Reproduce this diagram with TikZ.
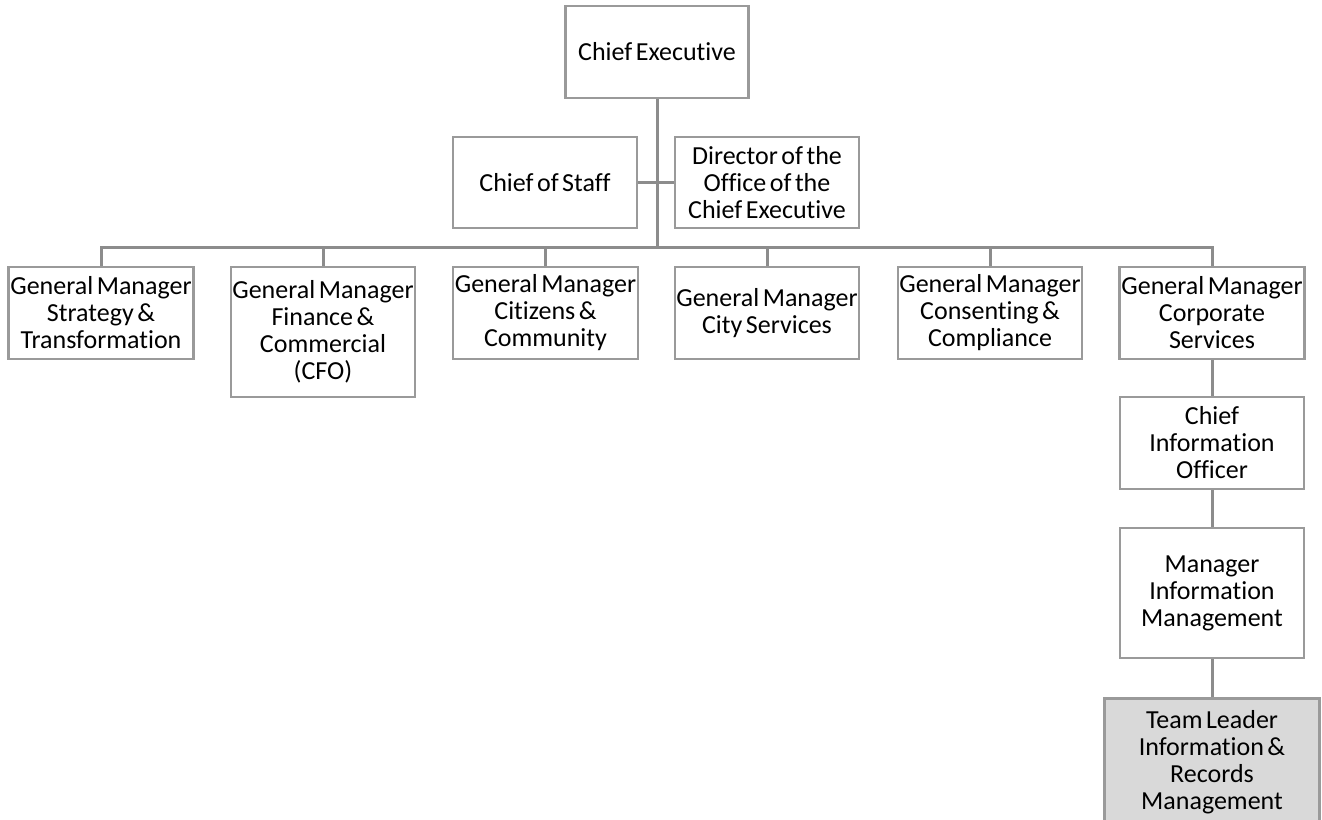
\documentclass[tikz,border=0pt]{standalone}
\usepackage{fontspec}
\setmainfont[WordSpace=0.6,RawFeature=-liga]{Carlito}
\definecolor{boxline}{HTML}{9A9A9A}
\definecolor{conn}{HTML}{8C8C8C}
\definecolor{tlfill}{HTML}{D9D9D9}
\begin{document}
\begin{tikzpicture}[x=1pt,y=-1pt,
  post/.style={draw=boxline,line width=2.8pt,fill=white,inner sep=0pt,align=center,
    font=\fontsize{26}{27}\selectfont},
  conline/.style={draw=conn,line width=3pt}]
\useasboundingbox (0,0) rectangle (1322,819);
\fill[white] (0,0) rectangle (1322,819);
% nodes
\node[post,minimum width=183pt,minimum height=92pt] (ce) at (657,52) {Chief Executive};
\node[post,minimum width=184pt,minimum height=91pt] (cos) at (545,182.5) {Chief of Staff};
\node[post,minimum width=184pt,minimum height=91pt] (dir) at (767,182.5) {Director of the\\Office of the\\Chief Executive};
\coordinate (bus) at (657,247);
\node[post,minimum width=185pt,minimum height=92pt] (gm1) at (101,313) {General Manager\\Strategy \&\\Transformation};
\node[post,minimum width=184pt,minimum height=130pt] (gm2) at (323,332) {General Manager\\Finance \&\\Commercial\\(CFO)};
\node[post,minimum width=185pt,minimum height=92pt] (gm3) at (545.5,313) {General Manager\\Citizens \&\\Community};
\node[post,minimum width=184pt,minimum height=92pt] (gm4) at (767,313) {General Manager\\City Services};
\node[post,minimum width=184pt,minimum height=92pt] (gm5) at (990,313) {General Manager\\Consenting \&\\Compliance};
\node[post,minimum width=185pt,minimum height=92pt] (gm6) at (1212,313) {General Manager\\Corporate\\Services};
\node[post,minimum width=184pt,minimum height=92pt] (cio) at (1212,443) {Chief\\Information\\Officer};
\node[post,minimum width=184pt,minimum height=130pt] (mim) at (1212,593) {Manager\\Information\\Management};
\node[post,fill=tlfill,minimum width=215pt,minimum height=128pt,anchor=north] (tl) at (1212,697) {Team Leader\\Information \&\\Records\\Management};
% connectors
\draw[conline] (ce.south) -- (bus);
\draw[conline] (cos.east) -- (dir.west);
\draw[conline] (gm1.north) |- (bus) -| (gm6.north);
\draw[conline] (gm2.north) -- (gm2.north |- bus);
\draw[conline] (gm3.north) -- (gm3.north |- bus);
\draw[conline] (gm4.north) -- (gm4.north |- bus);
\draw[conline] (gm5.north) -- (gm5.north |- bus);
\draw[conline] (gm6.south) -- (cio.north);
\draw[conline] (cio.south) -- (mim.north);
\draw[conline] (mim.south) -- (tl.north);
\end{tikzpicture}
\end{document}
